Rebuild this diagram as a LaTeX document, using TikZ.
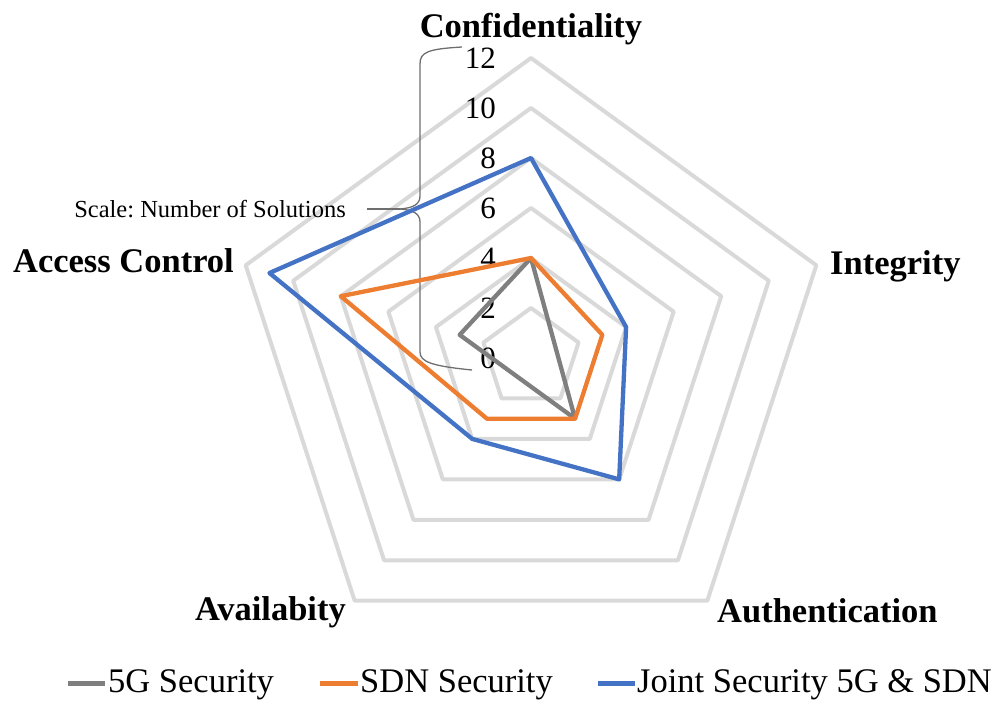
\documentclass[tikz,border=0pt]{standalone}
\usepackage{fontspec}
\setmainfont{Liberation Serif}
\definecolor{gridc}{RGB}{217,217,217}
\definecolor{c5g}{RGB}{127,127,127}
\definecolor{csdn}{RGB}{237,125,49}
\definecolor{cjoint}{RGB}{68,114,196}
\definecolor{bracec}{RGB}{110,110,110}
\begin{document}
\begin{tikzpicture}[x=1pt,y=-1pt,
  gridline/.style={draw=gridc,line width=4pt,line join=round},
  series/.style={line width=4.3pt,line join=round},
  axislabel/.style={font=\fontsize{34.5}{40}\selectfont\bfseries,inner sep=0pt},
  scalelabel/.style={font=\fontsize{31}{36}\selectfont,inner sep=0pt,anchor=east},
  legendtext/.style={font=\fontsize{34.5}{40}\selectfont,inner sep=0pt,anchor=base west},
  bracepath/.style={draw=bracec,line width=1.3pt},
  legendmark/.style={line width=5pt}]
\useasboundingbox (0,0) rectangle (1001,704);
\coordinate (O) at (531,358);
% grid rings
\begin{scope}[shift={(531,358)}]
\foreach \r [evaluate=\r as \rr using 25*\r] in {2,4,...,12}
  \draw[gridline] (-90:\rr) -- (-18:\rr) -- (54:\rr) -- (126:\rr) -- (198:\rr) -- cycle;
\end{scope}
% scale labels
\foreach \v [evaluate=\v as \yy using 358-25*\v] in {0,2,...,12}
  \node[scalelabel] (s\v) at (496,\yy) {\v};
% scale annotation
\node[font=\fontsize{24.5}{28}\selectfont,inner sep=0pt,anchor=base east] (scaletxt) at (346,217) {Scale:\ Number\ of\ Solutions};
\coordinate (bmid) at (400,209);
\coordinate (btop) at (462,47);
\coordinate (bbot) at (472,370);
\draw[bracepath] (btop) .. controls (428,49) and (420,52) .. (420,64) -- (420,196) .. controls (420,205) and (412,208) .. (bmid);
\draw[bracepath] (bmid) .. controls (412,210) and (420,213) .. (420,222) -- (420,352) .. controls (420,362) and (432,366) .. (bbot);
\draw[bracepath] (367,209) coordinate (bleft) -- (bmid);
% data points
\begin{scope}[shift={(531,358)}]
\path (-90:100) coordinate (g1) (54:75) coordinate (g3) (198:75) coordinate (g5);
\path (-90:100) coordinate (o1) (-18:75) coordinate (o2) (54:75) coordinate (o3) (126:75) coordinate (o4) (198:200) coordinate (o5);
\path (-90:200) coordinate (b1) (-18:100) coordinate (b2) (54:150) coordinate (b3) (126:100) coordinate (b4) (198:275) coordinate (b5);
\end{scope}
\draw[series,draw=c5g] (g1) -- (g3) -- (g5) -- cycle;
\draw[series,draw=csdn] (o1) -- (o2) -- (o3) -- (o4) -- (o5) -- cycle;
\draw[series,draw=cjoint] (b1) -- (b2) -- (b3) -- (b4) -- (b5) -- cycle;
% axis labels
\node[axislabel,anchor=base] (conf) at (531,37) {Confidentiality};
\node[axislabel,anchor=base west] (integ) at (830,274) {Integrity};
\node[axislabel,anchor=base west] (auth) at (717,622) {Authentication};
\node[axislabel,anchor=base east] (avail) at (346,620) {Availabity};
\node[axislabel,anchor=base east] (access) at (234,272) {Access Control};
% legend
\coordinate (l1a) at (68,683); \coordinate (l1b) at (105,683);
\coordinate (l2a) at (320,683); \coordinate (l2b) at (358,683);
\coordinate (l3a) at (598,683); \coordinate (l3b) at (635,683);
\draw[legendmark,draw=c5g] (l1a) -- (l1b);
\draw[legendmark,draw=csdn] (l2a) -- (l2b);
\draw[legendmark,draw=cjoint] (l3a) -- (l3b);
\node[legendtext] (leg1) at (108,692) {5G Security};
\node[legendtext] (leg2) at (360,692) {SDN Security};
\node[legendtext] (leg3) at (637,692) {Joint Security 5G \& SDN};
\end{tikzpicture}
\end{document}
